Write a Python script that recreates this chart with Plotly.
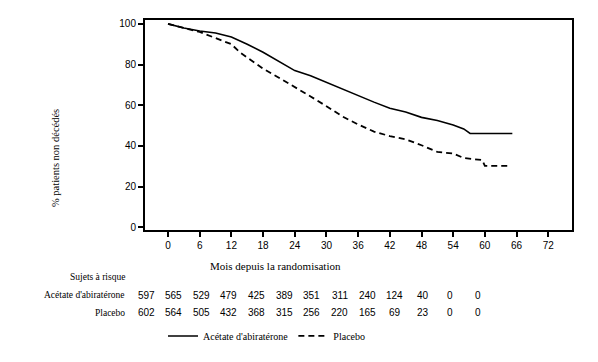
import plotly.graph_objects as go

# ---------------- data ----------------
months_abi = [0, 3, 6, 9, 12, 15, 18, 21, 24, 27, 30, 33, 36, 39, 42, 45, 48, 51, 54, 56, 57.2, 65.2]
surv_abi = [100, 98, 96.5, 95.5, 93.5, 90, 86, 81.5, 77, 74.5, 71.2, 68.3, 65, 61.5, 58.5, 56.6, 54, 52.5, 50.3, 48.3, 46.1, 46.1]

months_pbo = [0, 3, 6, 8.5, 12, 13.6, 15, 18, 21, 24, 27, 30, 33, 36, 39, 42, 45, 48, 51, 54, 56, 59.5, 60, 64.8]
surv_pbo = [100, 98, 96, 93.5, 90, 86, 83.5, 78, 73.5, 69, 64.3, 59.5, 54.5, 50.5, 47, 44.8, 43.2, 40.3, 37, 36.2, 34, 33, 30.1, 30.1]

x_ticks = [0, 6, 12, 18, 24, 30, 36, 42, 48, 54, 60, 66, 72]
y_ticks = [0, 20, 40, 60, 80, 100]

risk_abi = [597, 565, 529, 479, 425, 389, 351, 311, 240, 124, 40, 0, 0]
risk_pbo = [602, 564, 505, 432, 368, 315, 256, 220, 165, 69, 23, 0, 0]

name_abi = "Acétate d'abiratérone"
name_pbo = "Placebo"

# ---------------- layout constants ----------------
W, H = 598, 362
ML, MR, MT, MB = 145, 26, 20, 126
PW = W - ML - MR
PH = H - MT - MB

def px_x(p):
    return (p - ML) / PW

def px_y(p):
    return (H - MB - p) / PH

serif = "Liberation Serif, Times New Roman, serif"
sans = "Liberation Sans, Arial, sans-serif"
narrow = "Liberation Sans Narrow, Arial Narrow, Liberation Sans, sans-serif"

fig = go.Figure()
fig.add_trace(go.Scatter(x=months_abi, y=surv_abi, mode="lines", name=name_abi,
                         line=dict(color="black", width=1.6)))
fig.add_trace(go.Scatter(x=months_pbo, y=surv_pbo, mode="lines", name=name_pbo,
                         line=dict(color="black", width=1.8, dash="6px,4px")))

def note(text, x, y, size, family=serif, xanchor="center", angle=0):
    return dict(text=text, xref="paper", yref="paper", x=px_x(x), y=px_y(y),
                xanchor=xanchor, yanchor="middle", showarrow=False, textangle=angle,
                font=dict(family=family, size=size, color="black"))

ann = []
ann.append(note("Mois depuis la randomisation", 275, 273, 11))
ann.append(note("% patients non décédés", 55, 162, 10.5, angle=-90))
ann.append(note("Sujets à risque", 127, 284, 9.5, xanchor="right"))
ann.append(note(name_abi, 127, 303, 9.5, xanchor="right"))
ann.append(note(name_pbo, 127, 321, 9.5, xanchor="right"))
col0, step = 146.0, 27.65
for i, (a, b) in enumerate(zip(risk_abi, risk_pbo)):
    cx = col0 + i * step
    ann.append(note(str(a), cx, 303, 10, family=narrow))
    ann.append(note(str(b), cx, 321, 10, family=narrow))

fig.update_layout(
    width=W, height=H,
    margin=dict(l=ML, r=MR, t=MT, b=MB),
    paper_bgcolor="white", plot_bgcolor="white",
    showlegend=True,
    legend=dict(orientation="h", x=px_x(163), y=px_y(345), yanchor="middle", xanchor="left",
                font=dict(family=serif, size=10, color="black"),
                bgcolor="rgba(0,0,0,0)", tracegroupgap=0),
    annotations=ann,
)
fig.update_xaxes(range=[-4.36, 76.5], tickvals=x_ticks, ticktext=[str(v) for v in x_ticks],
                 showgrid=False, zeroline=False, showline=True, linecolor="black", linewidth=2,
                 mirror=True, ticks="outside", ticklen=5, tickwidth=2, tickcolor="black",
                 tickfont=dict(family=sans, size=10, color="black"))
fig.update_yaxes(range=[-1.4, 101.9], tickvals=y_ticks,
                 showgrid=False, zeroline=False, showline=True, linecolor="black", linewidth=2,
                 mirror=True, ticks="outside", ticklen=5, tickwidth=2, tickcolor="black",
                 tickfont=dict(family=sans, size=10, color="black"))

fig.write_html("out.html", config={"displayModeBar": False},
               post_script="document.body.style.margin='0';")
